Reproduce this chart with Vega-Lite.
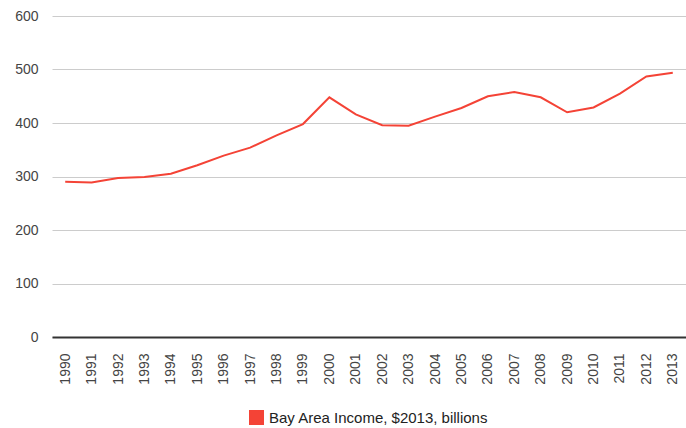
{
  "$schema": "https://vega.github.io/schema/vega-lite/v6.json",
  "autosize": "none",
  "width": 634,
  "height": 321,
  "padding": {"left": 52, "top": 16, "right": 0, "bottom": 91},
  "background": "white",
  "config": {
    "font": "Liberation Sans",
    "view": {"stroke": null}
  },
  "data": {
    "values": [
      {"year": "1990", "income": 290},
      {"year": "1991", "income": 289},
      {"year": "1992", "income": 297},
      {"year": "1993", "income": 299},
      {"year": "1994", "income": 305},
      {"year": "1995", "income": 321},
      {"year": "1996", "income": 339},
      {"year": "1997", "income": 354},
      {"year": "1998", "income": 377},
      {"year": "1999", "income": 398},
      {"year": "2000", "income": 448},
      {"year": "2001", "income": 416},
      {"year": "2002", "income": 396},
      {"year": "2003", "income": 395},
      {"year": "2004", "income": 412},
      {"year": "2005", "income": 428},
      {"year": "2006", "income": 450},
      {"year": "2007", "income": 458},
      {"year": "2008", "income": 448},
      {"year": "2009", "income": 420},
      {"year": "2010", "income": 429},
      {"year": "2011", "income": 455},
      {"year": "2012", "income": 487},
      {"year": "2013", "income": 494}
    ]
  },
  "mark": {"type": "line", "strokeWidth": 2, "interpolate": "linear"},
  "encoding": {
    "x": {
      "field": "year",
      "type": "ordinal",
      "scale": {"type": "point", "padding": 0.5},
      "axis": {
        "title": null,
        "labelAngle": -90,
        "labelAlign": "right",
        "labelBaseline": "middle",
        "labelPadding": 16,
        "ticks": false,
        "domainColor": "#333333",
        "domainWidth": 2,
        "labelFontSize": 14,
        "labelColor": "#444444"
      }
    },
    "y": {
      "field": "income",
      "type": "quantitative",
      "scale": {"domain": [0, 600], "nice": false},
      "axis": {
        "title": null,
        "values": [0, 100, 200, 300, 400, 500, 600],
        "domain": false,
        "ticks": false,
        "labelPadding": 14,
        "gridColor": "#cccccc",
        "gridWidth": 1,
        "labelFontSize": 14,
        "labelColor": "#444444"
      }
    },
    "color": {
      "datum": "Bay Area Income, $2013, billions",
      "scale": {"range": ["#f44336"]},
      "legend": {
        "title": null,
        "orient": "none",
        "legendX": 197,
        "legendY": 394,
        "symbolType": "square",
        "symbolSize": 225,
        "symbolStrokeWidth": 0,
        "symbolFillColor": "#f44336",
        "labelFontSize": 15,
        "labelColor": "#222222",
        "labelOffset": 5,
        "labelLimit": 0
      }
    }
  }
}
